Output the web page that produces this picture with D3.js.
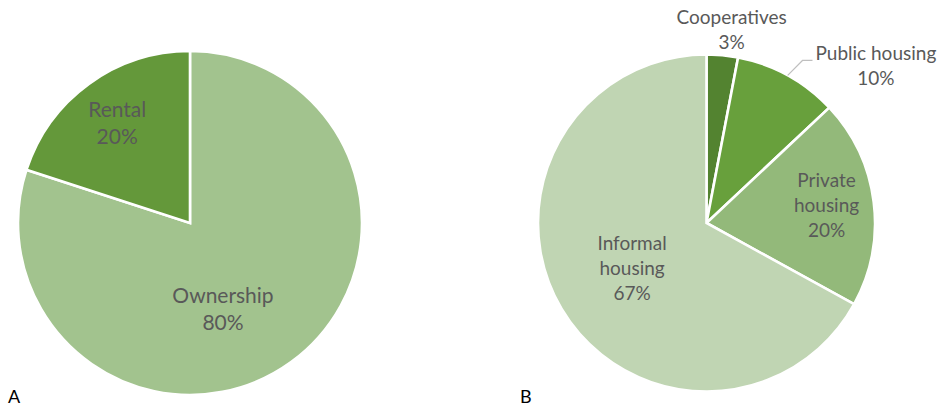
<!DOCTYPE html>
<html>
<head>
<meta charset="utf-8">
<script src="https://cdn.jsdelivr.net/npm/d3@7"></script>
<style>
  html, body { margin: 0; padding: 0; background: #ffffff; }
  svg { display: block; }
  text { font-family: Lato, "Open Sans", sans-serif; }
</style>
</head>
<body>
<svg id="chart" width="939" height="410"></svg>
<script>
// Panel A: tenure
const tenureLabels = ["Ownership", "Rental"];
const tenureValues = [80, 20];

// Panel B: housing supply
const supplyLabels = [["Cooperatives"], ["Public housing"], ["Private", "housing"], ["Informal", "housing"]];
const supplyValues = [3, 10, 20, 67];

const panelLetters = ["A", "B"];

// Styling / layout (not data)
const tenureColors = ["#a2c38e", "#64983a"];
const supplyColors = ["#538330", "#68a03c", "#93b97a", "#c0d5b3"];
// label placement in polar terms: angle (deg, clockwise from 12 o'clock) and distance as a fraction of radius
const tenureLabelPolar = [{ angle: 159, frac: 0.535 }, { angle: -36, frac: 0.72 }];
const supplyLabelPolar = [
  { angle: 7.4, frac: 1.157, outside: true },
  { angle: 47.2, frac: 1.37, outside: true, leader: true },
  { angle: 81.7, frac: 0.72 },
  { angle: 238.9, frac: 0.516 }
];

const svg = d3.select("#chart");
const textColor = "#595959";

function drawPie(cfg) {
  const g = svg.append("g").attr("transform", `translate(${cfg.cx},${cfg.cy})`);
  const data = cfg.values.map((v, i) => ({ value: v, label: cfg.labels[i], color: cfg.colors[i], pos: cfg.polar[i] }));
  const pie = d3.pie().sort(null).value(d => d.value);
  const arc = d3.arc().innerRadius(0).outerRadius(cfg.r);
  const arcs = pie(data);

  g.selectAll("path.slice")
    .data(arcs)
    .join("path")
    .attr("class", "slice")
    .attr("d", arc)
    .attr("fill", d => d.data.color)
    .attr("stroke", "#ffffff")
    .attr("stroke-width", 2.6)
    .attr("stroke-linejoin", "miter");

  const cap = 0.7165 * cfg.fontSize;
  arcs.forEach(d => {
    const p = d.data.pos;
    const a = p.angle * Math.PI / 180;
    const x = Math.sin(a) * p.frac * cfg.r;
    const y = -Math.cos(a) * p.frac * cfg.r;
    const lines = d.data.label.concat([Math.round(d.data.value / d3.sum(cfg.values) * 100) + "%"]);
    const n = lines.length;
    const firstBase = y - (n - 1) * cfg.lineH / 2 + cap / 2;
    const t = g.append("text")
      .attr("text-anchor", "middle")
      .attr("fill", textColor)
      .attr("font-size", cfg.fontSize);
    lines.forEach((ln, i) => {
      t.append("tspan").attr("x", x).attr("y", firstBase + i * cfg.lineH).text(ln);
    });
    if (p.leader) {
      const mid = (d.startAngle + d.endAngle) / 2;
      const sx = Math.sin(mid) * cfg.r, sy = -Math.cos(mid) * cfg.r;
      const bb = t.node().getBBox();
      const ex = bb.x - 3, ey = firstBase;
      g.append("polyline")
        .attr("points", [[sx, sy], [ex - 10, ey], [ex, ey]].map(q => q.join(",")).join(" "))
        .attr("fill", "none")
        .attr("stroke", "#bfbfbf")
        .attr("stroke-width", 1.2);
    }
  });
}

drawPie({ cx: 190, cy: 223, r: 172, values: tenureValues, labels: tenureLabels.map(l => [l]),
  colors: tenureColors, polar: tenureLabelPolar, fontSize: 21, lineH: 27 });
drawPie({ cx: 706.5, cy: 223, r: 168.5, values: supplyValues, labels: supplyLabels,
  colors: supplyColors, polar: supplyLabelPolar, fontSize: 19, lineH: 25 });

svg.selectAll("text.panel")
  .data(panelLetters)
  .join("text")
  .attr("class", "panel")
  .attr("x", (d, i) => i === 0 ? 8 : 520)
  .attr("y", 403)
  .attr("font-family", "'Liberation Sans', Arial, sans-serif")
  .attr("font-size", 18)
  .attr("fill", "#000000")
  .text(d => d);
</script>
</body>
</html>
